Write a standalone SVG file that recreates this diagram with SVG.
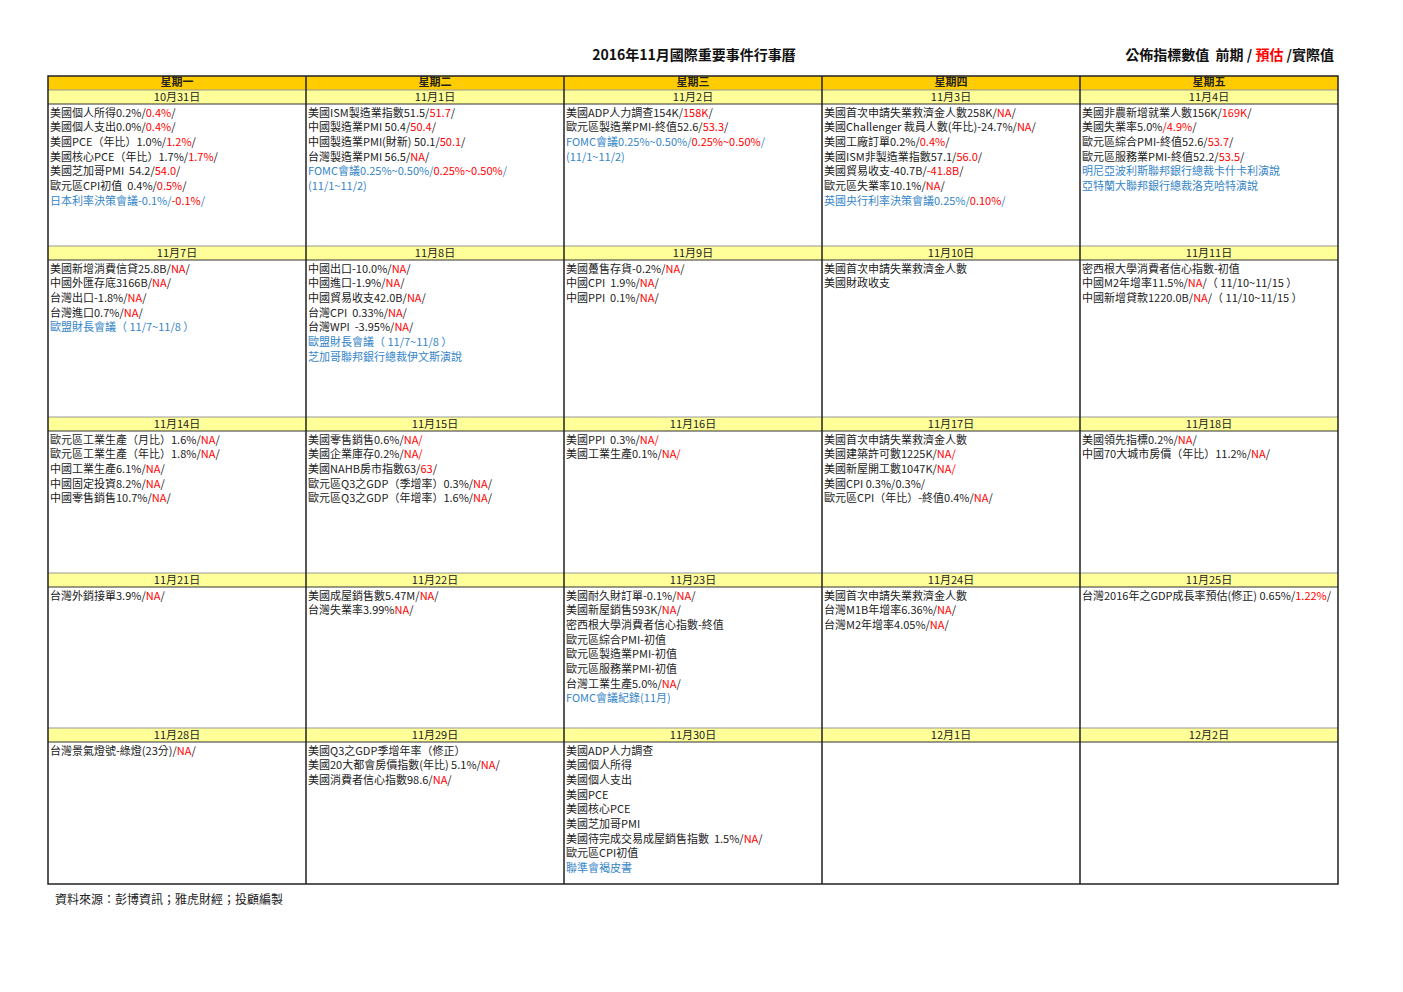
<svg xmlns="http://www.w3.org/2000/svg" width="1403" height="992" viewBox="0 0 1403 992">
<style>
text{font-family:"Noto Sans CJK TC","Noto Sans CJK SC",sans-serif;font-size:11px;fill:#222;white-space:pre}
.r{fill:#FF0000}
.b{fill:#3585C8}
.hd{font-weight:bold;text-anchor:middle}
.dt{text-anchor:middle}
.title{font-size:14px;font-weight:bold;fill:#111}
.foot{font-size:12px}
.hdr{fill:#FFCC00}
.dr{fill:#FFFF99}
.thick{stroke:#222;stroke-width:1.5;fill:none}
.thin{stroke:#333;stroke-width:1;fill:none}
.gray{stroke:#999;stroke-width:1;fill:none}
</style>
<rect width="1403" height="992" fill="#fff"/>
<g id="titles">
<text class="title" x="694" y="60" text-anchor="middle">2016年11月國際重要事件行事曆</text>
<text class="title" x="1334" y="60" text-anchor="end">公佈指標數值  前期 / <tspan class="r">預估</tspan> /實際值</text>
</g>
<g id="backgrounds">
<rect class="hdr" x="48" y="76" width="1290" height="14"/>
<rect class="dr" x="48" y="90" width="1290" height="14"/>
<rect class="dr" x="48" y="246" width="1290" height="14"/>
<rect class="dr" x="48" y="417" width="1290" height="14"/>
<rect class="dr" x="48" y="573" width="1290" height="14"/>
<rect class="dr" x="48" y="728" width="1290" height="14"/>
</g>
<g id="grid">
<path class="gray" d="M48 90H1338M48 246H1338M48 417H1338M48 573H1338M48 728H1338"/>
<path class="thin" d="M48 104H1338M48 260H1338M48 431H1338M48 587H1338M48 742H1338"/>
<path class="thick" d="M306 76V884M564 76V884M822 76V884M1080 76V884"/>
<rect class="thick" x="48" y="76" width="1290" height="808"/>
</g>
<g id="weekdays">
<text class="hd" x="177" y="86">星期一</text>
<text class="hd" x="435" y="86">星期二</text>
<text class="hd" x="693" y="86">星期三</text>
<text class="hd" x="951" y="86">星期四</text>
<text class="hd" x="1209" y="86">星期五</text>
</g>
<g id="dates">
<text class="dt" x="177" y="101">10月31日</text>
<text class="dt" x="435" y="101">11月1日</text>
<text class="dt" x="693" y="101">11月2日</text>
<text class="dt" x="951" y="101">11月3日</text>
<text class="dt" x="1209" y="101">11月4日</text>
<text class="dt" x="177" y="257">11月7日</text>
<text class="dt" x="435" y="257">11月8日</text>
<text class="dt" x="693" y="257">11月9日</text>
<text class="dt" x="951" y="257">11月10日</text>
<text class="dt" x="1209" y="257">11月11日</text>
<text class="dt" x="177" y="428">11月14日</text>
<text class="dt" x="435" y="428">11月15日</text>
<text class="dt" x="693" y="428">11月16日</text>
<text class="dt" x="951" y="428">11月17日</text>
<text class="dt" x="1209" y="428">11月18日</text>
<text class="dt" x="177" y="584">11月21日</text>
<text class="dt" x="435" y="584">11月22日</text>
<text class="dt" x="693" y="584">11月23日</text>
<text class="dt" x="951" y="584">11月24日</text>
<text class="dt" x="1209" y="584">11月25日</text>
<text class="dt" x="177" y="739">11月28日</text>
<text class="dt" x="435" y="739">11月29日</text>
<text class="dt" x="693" y="739">11月30日</text>
<text class="dt" x="951" y="739">12月1日</text>
<text class="dt" x="1209" y="739">12月2日</text>
</g>
<g id="cell-1031">
<text x="50" y="116.5">美國個人所得0.2%/<tspan class="r">0.4%</tspan>/</text>
<text x="50" y="131.2">美國個人支出0.0%/<tspan class="r">0.4%</tspan>/</text>
<text x="50" y="145.9">美國PCE（年比）1.0%/<tspan class="r">1.2%</tspan>/</text>
<text x="50" y="160.6">美國核心PCE（年比）1.7%/<tspan class="r">1.7%</tspan>/</text>
<text x="50" y="175.3">美國芝加哥PMI  54.2/<tspan class="r">54.0</tspan>/</text>
<text x="50" y="190">歐元區CPI初值  0.4%/<tspan class="r">0.5%</tspan>/</text>
<text x="50" y="204.7" class="b">日本利率決策會議-0.1%/<tspan class="r">-0.1%</tspan>/</text>
</g>
<g id="cell-1101">
<text x="308" y="116.5">美國ISM製造業指數51.5/<tspan class="r">51.7</tspan>/</text>
<text x="308" y="131.2">中國製造業PMI 50.4/<tspan class="r">50.4</tspan>/</text>
<text x="308" y="145.9">中國製造業PMI(財新) 50.1/<tspan class="r">50.1</tspan>/</text>
<text x="308" y="160.6">台灣製造業PMI 56.5/<tspan class="r">NA</tspan>/</text>
<text x="308" y="175.3" class="b">FOMC會議0.25%~0.50%/<tspan class="r">0.25%~0.50%</tspan>/</text>
<text x="308" y="190" class="b">(11/1~11/2)</text>
</g>
<g id="cell-1102">
<text x="566" y="116.5">美國ADP人力調查154K/<tspan class="r">158K</tspan>/</text>
<text x="566" y="131.2">歐元區製造業PMI-終值52.6/<tspan class="r">53.3</tspan>/</text>
<text x="566" y="145.9" class="b">FOMC會議0.25%~0.50%/<tspan class="r">0.25%~0.50%</tspan>/</text>
<text x="566" y="160.6" class="b">(11/1~11/2)</text>
</g>
<g id="cell-1103">
<text x="824" y="116.5">美國首次申請失業救濟金人數258K/<tspan class="r">NA</tspan>/</text>
<text x="824" y="131.2">美國Challenger 裁員人數(年比)-24.7%/<tspan class="r">NA</tspan>/</text>
<text x="824" y="145.9">美國工廠訂單0.2%/<tspan class="r">0.4%</tspan>/</text>
<text x="824" y="160.6">美國ISM非製造業指數57.1/<tspan class="r">56.0</tspan>/</text>
<text x="824" y="175.3">美國貿易收支-40.7B/<tspan class="r">-41.8B</tspan>/</text>
<text x="824" y="190">歐元區失業率10.1%/<tspan class="r">NA</tspan>/</text>
<text x="824" y="204.7" class="b">英國央行利率決策會議0.25%/<tspan class="r">0.10%</tspan>/</text>
</g>
<g id="cell-1104">
<text x="1082" y="116.5">美國非農新增就業人數156K/<tspan class="r">169K</tspan>/</text>
<text x="1082" y="131.2">美國失業率5.0%<tspan class="r">/4.9%</tspan>/</text>
<text x="1082" y="145.9">歐元區綜合PMI-終值52.6/<tspan class="r">53.7</tspan>/</text>
<text x="1082" y="160.6">歐元區服務業PMI-終值52.2/<tspan class="r">53.5</tspan>/</text>
<text x="1082" y="175.3" class="b">明尼亞波利斯聯邦銀行總裁卡什卡利演說</text>
<text x="1082" y="190" class="b">亞特蘭大聯邦銀行總裁洛克哈特演說</text>
</g>
<g id="cell-1107">
<text x="50" y="272.5">美國新增消費信貸25.8B/<tspan class="r">NA</tspan>/</text>
<text x="50" y="287.2">中國外匯存底3166B/<tspan class="r">NA</tspan>/</text>
<text x="50" y="301.9">台灣出口-1.8%/<tspan class="r">NA</tspan>/</text>
<text x="50" y="316.6">台灣進口0.7%/<tspan class="r">NA</tspan>/</text>
<text x="50" y="331.3" class="b">歐盟財長會議（ 11/7~11/8 ）</text>
</g>
<g id="cell-1108">
<text x="308" y="272.5">中國出口-10.0%/<tspan class="r">NA</tspan>/</text>
<text x="308" y="287.2">中國進口-1.9%/<tspan class="r">NA</tspan>/</text>
<text x="308" y="301.9">中國貿易收支42.0B/<tspan class="r">NA</tspan>/</text>
<text x="308" y="316.6">台灣CPI  0.33%/<tspan class="r">NA</tspan>/</text>
<text x="308" y="331.3">台灣WPI  -3.95%/<tspan class="r">NA</tspan>/</text>
<text x="308" y="346" class="b">歐盟財長會議（ 11/7~11/8 ）</text>
<text x="308" y="360.7" class="b">芝加哥聯邦銀行總裁伊文斯演說</text>
</g>
<g id="cell-1109">
<text x="566" y="272.5">美國躉售存貨-0.2%/<tspan class="r">NA</tspan>/</text>
<text x="566" y="287.2">中國CPI  1.9%/<tspan class="r">NA</tspan>/</text>
<text x="566" y="301.9">中國PPI  0.1%/<tspan class="r">NA</tspan>/</text>
</g>
<g id="cell-1110">
<text x="824" y="272.5">美國首次申請失業救濟金人數</text>
<text x="824" y="287.2">美國財政收支</text>
</g>
<g id="cell-1111">
<text x="1082" y="272.5">密西根大學消費者信心指數-初值</text>
<text x="1082" y="287.2">中國M2年增率11.5%/<tspan class="r">NA</tspan>/（ 11/10~11/15 ）</text>
<text x="1082" y="301.9">中國新增貸款1220.0B/<tspan class="r">NA</tspan>/（ 11/10~11/15 ）</text>
</g>
<g id="cell-1114">
<text x="50" y="443.5">歐元區工業生產（月比）1.6%/<tspan class="r">NA</tspan>/</text>
<text x="50" y="458.2">歐元區工業生產（年比）1.8%/<tspan class="r">NA</tspan>/</text>
<text x="50" y="472.9">中國工業生產6.1%/<tspan class="r">NA</tspan>/</text>
<text x="50" y="487.6">中國固定投資8.2%/<tspan class="r">NA</tspan>/</text>
<text x="50" y="502.3">中國零售銷售10.7%/<tspan class="r">NA</tspan>/</text>
</g>
<g id="cell-1115">
<text x="308" y="443.5">美國零售銷售0.6%/<tspan class="r">NA/</tspan></text>
<text x="308" y="458.2">美國企業庫存0.2%/<tspan class="r">NA/</tspan></text>
<text x="308" y="472.9">美國NAHB房市指數63/<tspan class="r">63</tspan>/</text>
<text x="308" y="487.6">歐元區Q3之GDP（季增率）0.3%/<tspan class="r">NA</tspan>/</text>
<text x="308" y="502.3">歐元區Q3之GDP（年增率）1.6%/<tspan class="r">NA</tspan>/</text>
</g>
<g id="cell-1116">
<text x="566" y="443.5">美國PPI  0.3%/<tspan class="r">NA/</tspan></text>
<text x="566" y="458.2">美國工業生產0.1%/<tspan class="r">NA/</tspan></text>
</g>
<g id="cell-1117">
<text x="824" y="443.5">美國首次申請失業救濟金人數</text>
<text x="824" y="458.2">美國建築許可數1225K/<tspan class="r">NA/</tspan></text>
<text x="824" y="472.9">美國新屋開工數1047K/<tspan class="r">NA/</tspan></text>
<text x="824" y="487.6">美國CPI 0.3%/0.3%/</text>
<text x="824" y="502.3">歐元區CPI（年比）-終值0.4%/<tspan class="r">NA</tspan>/</text>
</g>
<g id="cell-1118">
<text x="1082" y="443.5">美國領先指標0.2%/<tspan class="r">NA</tspan>/</text>
<text x="1082" y="458.2">中國70大城市房價（年比）11.2%/<tspan class="r">NA</tspan>/</text>
</g>
<g id="cell-1121">
<text x="50" y="599.5">台灣外銷接單3.9%/<tspan class="r">NA</tspan>/</text>
</g>
<g id="cell-1122">
<text x="308" y="599.5">美國成屋銷售數5.47M/<tspan class="r">NA</tspan>/</text>
<text x="308" y="614.2">台灣失業率3.99%<tspan class="r">NA</tspan>/</text>
</g>
<g id="cell-1123">
<text x="566" y="599.5">美國耐久財訂單-0.1%/<tspan class="r">NA</tspan>/</text>
<text x="566" y="614.2">美國新屋銷售593K/<tspan class="r">NA</tspan>/</text>
<text x="566" y="628.9">密西根大學消費者信心指數-終值</text>
<text x="566" y="643.6">歐元區綜合PMI-初值</text>
<text x="566" y="658.3">歐元區製造業PMI-初值</text>
<text x="566" y="673">歐元區服務業PMI-初值</text>
<text x="566" y="687.7">台灣工業生產5.0%/<tspan class="r">NA</tspan>/</text>
<text x="566" y="702.4" class="b">FOMC會議紀錄(11月)</text>
</g>
<g id="cell-1124">
<text x="824" y="599.5">美國首次申請失業救濟金人數</text>
<text x="824" y="614.2">台灣M1B年增率6.36%/<tspan class="r">NA</tspan>/</text>
<text x="824" y="628.9">台灣M2年增率4.05%/<tspan class="r">NA</tspan>/</text>
</g>
<g id="cell-1125">
<text x="1082" y="599.5">台灣2016年之GDP成長率預估(修正) 0.65%/<tspan class="r">1.22%</tspan>/</text>
</g>
<g id="cell-1128">
<text x="50" y="754.5">台灣景氣燈號-綠燈(23分)/<tspan class="r">NA</tspan>/</text>
</g>
<g id="cell-1129">
<text x="308" y="754.5">美國Q3之GDP季增年率（修正）</text>
<text x="308" y="769.2">美國20大都會房價指數(年比) 5.1%/<tspan class="r">NA</tspan>/</text>
<text x="308" y="783.9">美國消費者信心指數98.6/<tspan class="r">NA</tspan>/</text>
</g>
<g id="cell-1130">
<text x="566" y="754.5">美國ADP人力調查</text>
<text x="566" y="769.2">美國個人所得</text>
<text x="566" y="783.9">美國個人支出</text>
<text x="566" y="798.6">美國PCE</text>
<text x="566" y="813.3">美國核心PCE</text>
<text x="566" y="828">美國芝加哥PMI</text>
<text x="566" y="842.7">美國待完成交易成屋銷售指數  1.5%/<tspan class="r">NA</tspan>/</text>
<text x="566" y="857.4">歐元區CPI初值</text>
<text x="566" y="872.1" class="b">聯準會褐皮書</text>
</g>
<g id="cell-1201"></g>
<g id="cell-1202"></g>
<g id="footer">
<text class="foot" x="55" y="904">資料來源：彭博資訊；雅虎財經；投顧編製</text>
</g>
</svg>
